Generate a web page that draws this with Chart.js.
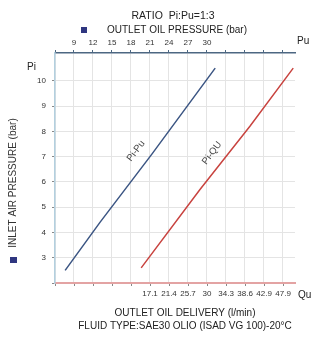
<!DOCTYPE html>
<html>
<head>
<meta charset="utf-8">
<script src="https://cdn.jsdelivr.net/npm/chart.js@4.4.1/dist/chart.umd.min.js"></script>
<style>
  body { margin: 0; background: #fff; }
  canvas { display: block; }
</style>
</head>
<body>
<canvas id="chart" width="330" height="340"></canvas>
<script>
// Pi-Pu line (outlet pressure vs inlet air pressure)
const piPuOutlet = [7.6, 13.1, 21.3, 31.3];
const piPuInlet = [2.5, 4.4, 7.1, 10.5];

// Pi-Qu line (outlet delivery vs inlet air pressure)
const piQuDelivery = [15.1, 28.4, 39.7, 49.5];
const piQuInlet = [2.6, 5.7, 8.2, 10.5];

// axis ticks
const puTicks = [6, 9, 12, 15, 18, 21, 24, 27, 30, 33, 36, 39, 42];
const puLabels = [9, 12, 15, 18, 21, 24, 27, 30];
const quTicks = [-4.4, -0.1, 4.2, 8.5, 12.8, 17.1, 21.4, 25.7, 30, 34.3, 38.6, 42.9, 47.2];
const quLabels = ['17.1', '21.4', '25.7', '30', '34.3', '38.6', '42.9', '47.9'];
const piTicks = [2, 3, 4, 5, 6, 7, 8, 9, 10];

const FONT = 'Liberation Sans';

function toPoints(xs, ys) {
    return xs.map((x, i) => ({ x: x, y: ys[i] }));
}

// extra texts drawn on top of the chart
const textPlugin = {
    id: 'texts',
    afterDraw(chart) {
        const ctx = chart.ctx;
        ctx.save();
        ctx.fillStyle = '#222';
        ctx.textBaseline = 'middle';

        ctx.font = '10.5px ' + FONT;
        ctx.textAlign = 'center';
        ctx.fillText('RATIO  Pi:Pu=1:3', 173, 16);

        ctx.font = '10px ' + FONT;
        ctx.textAlign = 'left';
        ctx.fillText('OUTLET OIL PRESSURE (bar)', 107, 30);
        ctx.fillText('Pu', 297, 41);
        ctx.fillText('Pi', 27, 67);
        ctx.fillText('Qu', 298, 295);

        ctx.textAlign = 'center';
        ctx.fillText('OUTLET OIL DELIVERY (l/min)', 185, 313);
        ctx.fillText('FLUID TYPE:SAE30 OLIO (ISAD VG 100)-20°C', 185, 326);

        ctx.fillStyle = '#2f3680';
        ctx.fillRect(81, 27, 6, 6);
        ctx.fillRect(10, 257, 7, 6);

        // vertical axis title
        ctx.fillStyle = '#333';
        ctx.save();
        ctx.translate(13, 183);
        ctx.rotate(-Math.PI / 2);
        ctx.fillText('INLET AIR PRESSURE (bar)', 0, 0);
        ctx.restore();

        // line names
        ctx.font = '9.5px ' + FONT;
        ctx.fillStyle = '#444';
        [['Pi-Pu', 136, 151], ['Pi-QU', 212, 153]].forEach(t => {
            ctx.save();
            ctx.translate(t[1], t[2]);
            ctx.rotate(-53 * Math.PI / 180);
            ctx.fillText(t[0], 0, 0);
            ctx.restore();
        });
        ctx.restore();
    }
};

const ctx = document.getElementById('chart').getContext('2d');
const chart = new Chart(ctx, {
    type: 'scatter',
    data: {
        datasets: [
            {
                label: 'Pi-Pu',
                data: toPoints(piPuOutlet, piPuInlet),
                xAxisID: 'xPu',
                yAxisID: 'y',
                showLine: true,
                borderColor: '#3b5583',
                borderWidth: 1.5,
                pointRadius: 0
            },
            {
                label: 'Pi-Qu',
                data: toPoints(piQuDelivery, piQuInlet),
                xAxisID: 'xQu',
                yAxisID: 'y',
                showLine: true,
                borderColor: '#c8433f',
                borderWidth: 1.5,
                pointRadius: 0
            }
        ]
    },
    options: {
        responsive: false,
        animation: false,
        layout: { padding: { left: 0, right: 35, top: 0, bottom: 0 } },
        plugins: {
            legend: { display: false },
            tooltip: { enabled: false }
        },
        scales: {
            xPu: {
                type: 'linear',
                position: 'top',
                min: 6,
                max: 43.9,
                afterBuildTicks: s => { s.ticks = puTicks.map(v => ({ value: v })); },
                afterFit: s => { s.height = 53; },
                border: { color: '#4d6782', width: 1.5 },
                grid: { color: '#e4e4e4', tickColor: '#4d6782', tickLength: 3 },
                ticks: {
                    autoSkip: false,
                    maxRotation: 0,
                    padding: 2,
                    color: '#333',
                    font: { family: FONT, size: 8 },
                    callback: v => puLabels.includes(v) ? String(v) : ''
                }
            },
            xQu: {
                type: 'linear',
                position: 'bottom',
                min: -4.4,
                max: 49.9,
                afterBuildTicks: s => { s.ticks = quTicks.map(v => ({ value: v })); },
                afterFit: s => { s.height = 57; },
                border: { color: '#e3a3a3', width: 2 },
                grid: { drawOnChartArea: false, tickColor: '#888', tickLength: 3 },
                ticks: {
                    autoSkip: false,
                    maxRotation: 0,
                    padding: 3,
                    color: '#333',
                    font: { family: FONT, size: 8 },
                    callback: (v, i) => i >= 5 ? quLabels[i - 5] : ''
                }
            },
            y: {
                type: 'linear',
                position: 'left',
                min: 2,
                max: 11.1,
                afterBuildTicks: s => { s.ticks = piTicks.map(v => ({ value: v })); },
                afterFit: s => { s.width = 55; },
                border: { color: '#b3d0df', width: 1.5 },
                grid: { color: '#e4e4e4', tickColor: '#888', tickLength: 3 },
                ticks: {
                    padding: 6,
                    color: '#333',
                    font: { family: FONT, size: 8 },
                    callback: v => v === 2 ? '' : String(v)
                }
            }
        }
    },
    plugins: [textPlugin]
});
</script>
</body>
</html>
